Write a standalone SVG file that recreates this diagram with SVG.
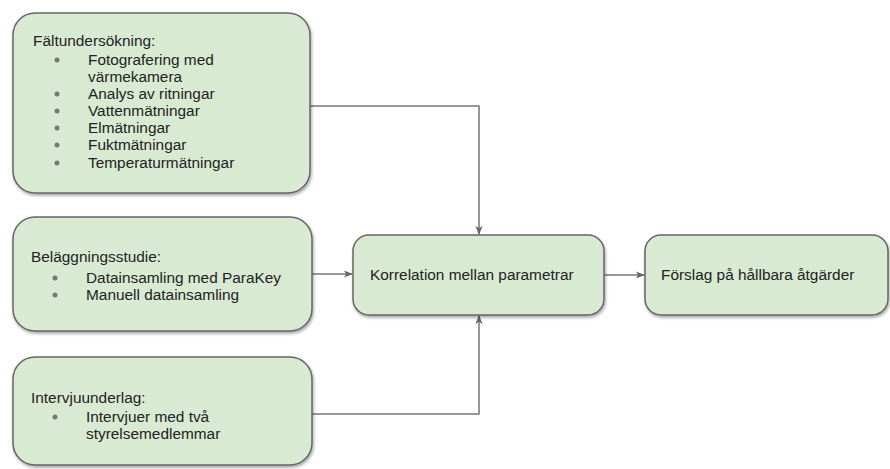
<svg xmlns="http://www.w3.org/2000/svg" width="890" height="469" viewBox="0 0 890 469">
  <defs>
    <filter id="sh" x="-10%" y="-10%" width="125%" height="130%">
      <feDropShadow dx="1" dy="2" stdDeviation="1.5" flood-color="#000" flood-opacity="0.35"/>
    </filter>
    <marker id="ah" viewBox="0 0 10 10" refX="9" refY="5" markerWidth="9" markerHeight="9" markerUnits="userSpaceOnUse" orient="auto">
      <path d="M0,1 L10,5 L0,9 L2.5,5 Z" fill="#666"/>
    </marker>
    <style>
      .box { fill: #d9ead3; stroke: #666; stroke-width: 1.5; filter: url(#sh); }
      .t { font-family: "Liberation Sans", Arial, sans-serif; font-size: 15.4px; fill: #222; }
      .b { fill: #777; }
      .c { fill: none; stroke: #777; stroke-width: 1.5; marker-end: url(#ah); }
    </style>
  </defs>
  <rect width="890" height="469" fill="#fff"/>

  <g id="connectors">
    <path class="c" d="M310,106 H479 V234"/>
    <path class="c" d="M312,274 H352"/>
    <path class="c" d="M312,414 H479 V316"/>
    <path class="c" d="M604,275 H644"/>
  </g>

  <g id="faltundersokning">
    <rect class="box" x="13" y="13" width="297" height="180" rx="22"/>
    <text class="t" x="33" y="46">Fältundersökning:</text>
    <circle class="b" cx="57" cy="60" r="2.5"/>
    <text class="t" x="88" y="65">Fotografering med</text>
    <text class="t" x="88" y="82">värmekamera</text>
    <circle class="b" cx="57" cy="94" r="2.5"/>
    <text class="t" x="88" y="99">Analys av ritningar</text>
    <circle class="b" cx="57" cy="111" r="2.5"/>
    <text class="t" x="88" y="116">Vattenmätningar</text>
    <circle class="b" cx="57" cy="128" r="2.5"/>
    <text class="t" x="88" y="133">Elmätningar</text>
    <circle class="b" cx="57" cy="145" r="2.5"/>
    <text class="t" x="88" y="150">Fuktmätningar</text>
    <circle class="b" cx="57" cy="163" r="2.5"/>
    <text class="t" x="88" y="168">Temperaturmätningar</text>
  </g>

  <g id="belaggningsstudie">
    <rect class="box" x="13" y="217" width="299" height="114" rx="22"/>
    <text class="t" x="31" y="262">Beläggningsstudie:</text>
    <circle class="b" cx="55" cy="278" r="2.5"/>
    <text class="t" x="86" y="283">Datainsamling med ParaKey</text>
    <circle class="b" cx="55" cy="295" r="2.5"/>
    <text class="t" x="86" y="300">Manuell datainsamling</text>
  </g>

  <g id="intervjuunderlag">
    <rect class="box" x="13" y="357" width="299" height="108" rx="22"/>
    <text class="t" x="31" y="403">Intervjuunderlag:</text>
    <circle class="b" cx="55" cy="417" r="2.5"/>
    <text class="t" x="86" y="422">Intervjuer med två</text>
    <text class="t" x="86" y="439">styrelsemedlemmar</text>
  </g>

  <g id="korrelation">
    <rect class="box" x="353" y="235" width="251" height="80" rx="16"/>
    <text class="t" x="370" y="280">Korrelation mellan parametrar</text>
  </g>

  <g id="forslag">
    <rect class="box" x="645" y="235" width="243" height="80" rx="16"/>
    <text class="t" x="661" y="280">Förslag på hållbara åtgärder</text>
  </g>
</svg>
